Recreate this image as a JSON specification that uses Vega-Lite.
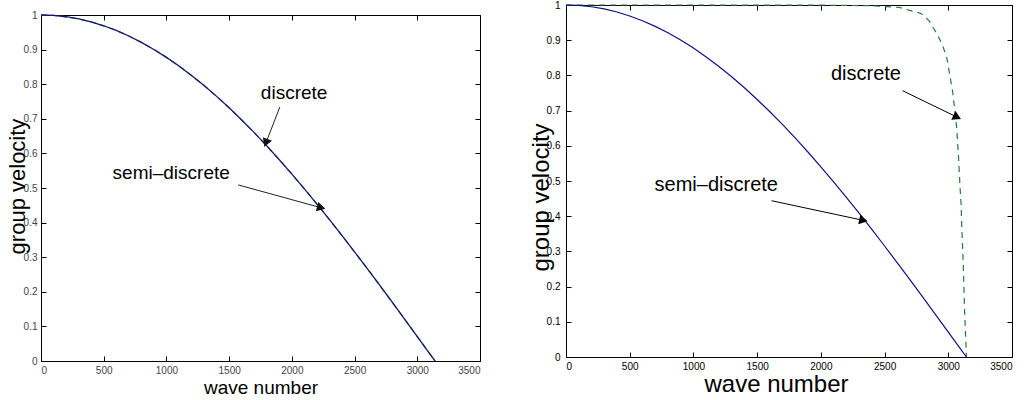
{
  "$schema": "https://vega.github.io/schema/vega-lite/v6.json",
  "background": "white",
  "padding": {"left": 6, "top": 0, "right": 0, "bottom": 0},
  "spacing": 48,
  "config": {
    "view": {"stroke": null},
    "font": "Liberation Sans",
    "axis": {"grid": false, "domain": true, "domainColor": "#000", "domainWidth": 1, "tickSize": -5, "tickColor": "#000", "labelFont": "Liberation Sans", "titleFont": "Liberation Sans", "titleFontWeight": "normal", "labelFontSize": 10, "labelColor": "#000", "titleColor": "#000"}
  },
  "datasets": {
    "semi": [
      {"k": 0, "v": 1}, {"k": 100, "v": 0.99875}, {"k": 200, "v": 0.995}, {"k": 300, "v": 0.98877},
      {"k": 400, "v": 0.98007}, {"k": 500, "v": 0.96891}, {"k": 600, "v": 0.95534}, {"k": 700, "v": 0.93937},
      {"k": 800, "v": 0.92106}, {"k": 900, "v": 0.90045}, {"k": 1000, "v": 0.87758}, {"k": 1100, "v": 0.85252},
      {"k": 1200, "v": 0.82534}, {"k": 1300, "v": 0.79608}, {"k": 1400, "v": 0.76484}, {"k": 1500, "v": 0.73169},
      {"k": 1600, "v": 0.69671}, {"k": 1700, "v": 0.65998}, {"k": 1800, "v": 0.62161}, {"k": 1900, "v": 0.58168},
      {"k": 2000, "v": 0.5403}, {"k": 2100, "v": 0.49757}, {"k": 2200, "v": 0.4536}, {"k": 2300, "v": 0.40849},
      {"k": 2400, "v": 0.36236}, {"k": 2500, "v": 0.31532}, {"k": 2600, "v": 0.2675}, {"k": 2700, "v": 0.21901},
      {"k": 2800, "v": 0.16997}, {"k": 2900, "v": 0.1205}, {"k": 3000, "v": 0.07074}, {"k": 3100, "v": 0.02079},
      {"k": 3142, "v": 0}
    ],
    "discRight": [
      {"k": 0, "v": 1}, {"k": 1000, "v": 1}, {"k": 2000, "v": 0.9995}, {"k": 2400, "v": 0.998},
      {"k": 2616, "v": 0.993}, {"k": 2786, "v": 0.976}, {"k": 2850, "v": 0.955}, {"k": 2908, "v": 0.92},
      {"k": 2950, "v": 0.89}, {"k": 2987, "v": 0.853}, {"k": 3034, "v": 0.754}, {"k": 3065, "v": 0.656},
      {"k": 3080, "v": 0.57}, {"k": 3092, "v": 0.484}, {"k": 3100, "v": 0.437}, {"k": 3107, "v": 0.36},
      {"k": 3118, "v": 0.26}, {"k": 3128, "v": 0.13}, {"k": 3137, "v": 0.05}, {"k": 3142, "v": 0}
    ],
    "labelsLeft": [
      {"label": "discrete", "k": 2018, "v": 0.775},
      {"label": "semi–discrete", "k": 1038, "v": 0.543}
    ],
    "labelsRight": [
      {"label": "discrete", "k": 2354, "v": 0.804},
      {"label": "semi–discrete", "k": 1179, "v": 0.489}
    ],
    "arrowsLeft": [
      {"name": "discrete", "k": 1904, "v": 0.734, "k2": 1797, "v2": 0.634},
      {"name": "semi", "k": 1572, "v": 0.509, "k2": 2223, "v2": 0.444}
    ],
    "arrowsRight": [
      {"name": "discrete", "k": 2641, "v": 0.7566, "k2": 3060, "v2": 0.683},
      {"name": "semi", "k": 1613, "v": 0.444, "k2": 2323, "v2": 0.389}
    ]
  },
  "hconcat": [
    {
      "width": 439,
      "height": 356,
      "resolve": {"axis": {"x": "independent", "y": "independent"}},
      "layer": [
        {
          "data": {"name": "semi"},
          "mark": {"type": "line", "stroke": "#2a8a3a", "strokeWidth": 1.3, "strokeDash": [6, 4]},
          "encoding": {
            "x": {"field": "k", "type": "quantitative", "scale": {"domain": [0, 3500], "nice": false},
              "axis": {"orient": "bottom", "values": [0, 500, 1000, 1500, 2000, 2500, 3000, 3500], "format": "d", "labelColor": "#444", "labelPadding": 9, "title": "wave number", "titleFontSize": 19, "titleY": 26, "titleBaseline": "middle"}},
            "y": {"field": "v", "type": "quantitative", "scale": {"domain": [0, 1], "nice": false, "range": [356, 10]},
              "axis": {"orient": "left", "values": [0, 0.1, 0.2, 0.3, 0.4, 0.5, 0.6, 0.7, 0.8, 0.9, 1], "format": ".1~f", "labelColor": "#444", "labelPadding": 9, "title": "group velocity", "titleFontSize": 22, "titleX": -24, "titleY": 181, "titleBaseline": "middle"}}
          }
        },
        {
          "data": {"name": "semi"},
          "mark": {"type": "line", "stroke": "#16166e", "strokeWidth": 1.3},
          "encoding": {
            "x": {"field": "k", "type": "quantitative", "axis": {"orient": "top", "offset": -10, "values": [0, 500, 1000, 1500, 2000, 2500, 3000, 3500], "labels": false, "title": null}},
            "y": {"field": "v", "type": "quantitative", "axis": {"orient": "right", "values": [0, 0.1, 0.2, 0.3, 0.4, 0.5, 0.6, 0.7, 0.8, 0.9, 1], "labels": false, "title": null}}
          }
        },
        {
          "data": {"name": "arrowsLeft"},
          "mark": {"type": "rule", "color": "#222", "strokeWidth": 1},
          "encoding": {
            "x": {"field": "k", "type": "quantitative", "axis": null},
            "y": {"field": "v", "type": "quantitative", "axis": null},
            "x2": {"field": "k2"},
            "y2": {"field": "v2"}
          }
        },
        {
          "data": {"name": "arrowsLeft"},
          "transform": [{"filter": "datum.name == 'discrete'"}],
          "mark": {"type": "point", "shape": "triangle", "filled": true, "fill": "#111", "stroke": "#111", "size": 40, "angle": 201, "opacity": 1},
          "encoding": {
            "x": {"field": "k2", "type": "quantitative", "axis": null},
            "y": {"field": "v2", "type": "quantitative", "axis": null}
          }
        },
        {
          "data": {"name": "arrowsLeft"},
          "transform": [{"filter": "datum.name == 'semi'"}],
          "mark": {"type": "point", "shape": "triangle", "filled": true, "fill": "#111", "stroke": "#111", "size": 40, "angle": 105, "opacity": 1},
          "encoding": {
            "x": {"field": "k2", "type": "quantitative", "axis": null},
            "y": {"field": "v2", "type": "quantitative", "axis": null}
          }
        },
        {
          "data": {"name": "labelsLeft"},
          "mark": {"type": "text", "font": "Liberation Sans", "fontSize": 19, "color": "#000", "align": "center", "baseline": "middle"},
          "encoding": {
            "x": {"field": "k", "type": "quantitative", "axis": null},
            "y": {"field": "v", "type": "quantitative", "axis": null},
            "text": {"field": "label"}
          }
        }
      ]
    },
    {
      "width": 446,
      "height": 352,
      "resolve": {"axis": {"x": "independent", "y": "independent"}},
      "layer": [
        {
          "data": {"name": "discRight"},
          "mark": {"type": "line", "stroke": "#2a7a3a", "strokeWidth": 1.2, "strokeDash": [6, 5]},
          "encoding": {
            "x": {"field": "k", "type": "quantitative", "scale": {"domain": [0, 3500], "nice": false},
              "axis": {"orient": "bottom", "values": [0, 500, 1000, 1500, 2000, 2500, 3000, 3500], "format": "d", "labelPadding": 9, "title": "wave number", "titleFontSize": 24, "titleX": 210, "titleY": 27, "titleBaseline": "middle"}},
            "y": {"field": "v", "type": "quantitative", "scale": {"domain": [0, 1], "nice": false},
              "axis": {"orient": "left", "values": [0, 0.1, 0.2, 0.3, 0.4, 0.5, 0.6, 0.7, 0.8, 0.9, 1], "format": ".1~f", "labelPadding": 11, "title": "group velocity", "titleFontSize": 24, "titleX": -25, "titleY": 192, "titleBaseline": "middle"}}
          }
        },
        {
          "data": {"name": "semi"},
          "mark": {"type": "line", "stroke": "#10108a", "strokeWidth": 1.2},
          "encoding": {
            "x": {"field": "k", "type": "quantitative", "axis": {"orient": "top", "values": [0, 500, 1000, 1500, 2000, 2500, 3000, 3500], "labels": false, "title": null}},
            "y": {"field": "v", "type": "quantitative", "axis": {"orient": "right", "values": [0, 0.1, 0.2, 0.3, 0.4, 0.5, 0.6, 0.7, 0.8, 0.9, 1], "labels": false, "title": null}}
          }
        },
        {
          "data": {"name": "arrowsRight"},
          "mark": {"type": "rule", "color": "#000", "strokeWidth": 1},
          "encoding": {
            "x": {"field": "k", "type": "quantitative", "axis": null},
            "y": {"field": "v", "type": "quantitative", "axis": null},
            "x2": {"field": "k2"},
            "y2": {"field": "v2"}
          }
        },
        {
          "data": {"name": "arrowsRight"},
          "transform": [{"filter": "datum.name == 'discrete'"}],
          "mark": {"type": "point", "shape": "triangle", "filled": true, "fill": "#000", "stroke": "#000", "size": 40, "angle": 116, "opacity": 1},
          "encoding": {
            "x": {"field": "k2", "type": "quantitative", "axis": null},
            "y": {"field": "v2", "type": "quantitative", "axis": null}
          }
        },
        {
          "data": {"name": "arrowsRight"},
          "transform": [{"filter": "datum.name == 'semi'"}],
          "mark": {"type": "point", "shape": "triangle", "filled": true, "fill": "#000", "stroke": "#000", "size": 40, "angle": 102, "opacity": 1},
          "encoding": {
            "x": {"field": "k2", "type": "quantitative", "axis": null},
            "y": {"field": "v2", "type": "quantitative", "axis": null}
          }
        },
        {
          "data": {"name": "labelsRight"},
          "mark": {"type": "text", "font": "Liberation Sans", "fontSize": 20, "color": "#000", "align": "center", "baseline": "middle"},
          "encoding": {
            "x": {"field": "k", "type": "quantitative", "axis": null},
            "y": {"field": "v", "type": "quantitative", "axis": null},
            "text": {"field": "label"}
          }
        }
      ]
    }
  ]
}
